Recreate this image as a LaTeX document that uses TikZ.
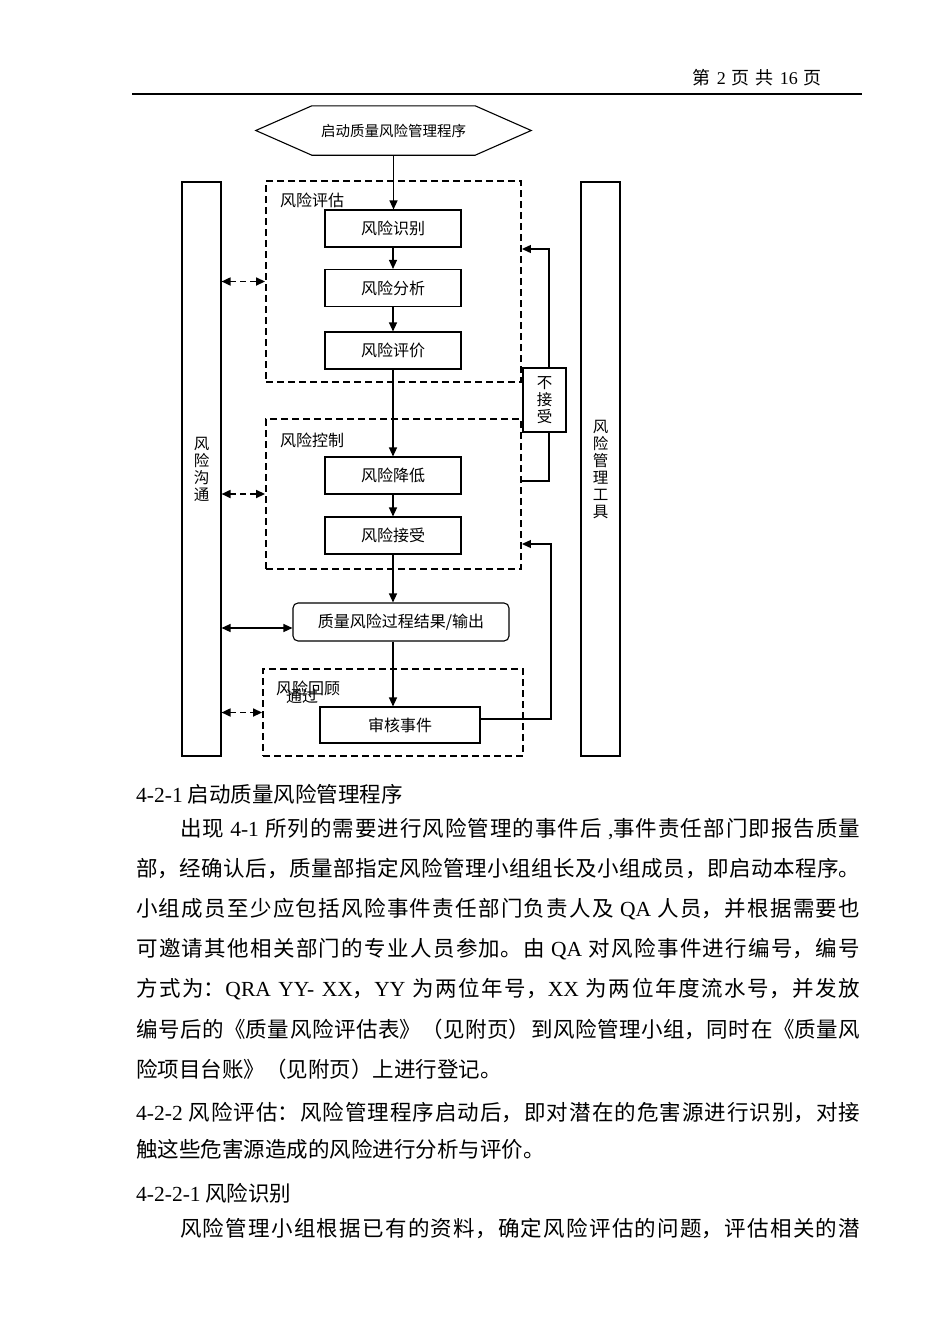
\documentclass[tikz,border=0pt]{standalone}
\usepackage{fontspec}
\setmainfont{Noto Sans CJK SC}
\newfontfamily\lat{Liberation Serif}
\usetikzlibrary{arrows.meta,calc}
\XeTeXlinebreaklocale "zh"
\XeTeXlinebreakskip=0pt plus 2pt
\newcommand\lblf{\fontsize{16pt}{17pt}\selectfont}
\newcommand\vertf{\fontsize{15.5pt}{17pt}\selectfont}
\newcommand\hexf{\fontsize{14.5pt}{16pt}\selectfont}
\newcommand\bodyf{\fontsize{21.5pt}{40pt}\selectfont}
\newcommand\hdrf{\fontsize{18pt}{20pt}\selectfont}
\newcommand\J{\noindent\parfillskip=0pt\relax}
\tikzset{
  box/.style={draw, line width=1.1pt, minimum width=136pt, minimum height=37pt, inner sep=0pt, font=\lblf},
  tall/.style={draw, line width=1.1pt, minimum width=39pt, minimum height=574pt, inner sep=0pt, align=center, font=\vertf},
  dbox/.style={draw, line width=1.9pt, dash pattern=on 7pt off 4pt, inner sep=0pt},
  lab/.style={anchor=west, inner sep=0pt, font=\lblf},
  tip/.tip={Triangle[length=9pt,width=8pt]},
  arr/.style={line width=1.2pt, -tip},
  plain/.style={line width=1.2pt},
  darr/.style={line width=1.7pt, dash pattern=on 6pt off 4pt, tip-tip},
  sarr/.style={line width=1.3pt, tip-tip},
  tl/.style={anchor=west, inner sep=0pt, font=\bodyf},
  jl/.style={tl, text width=#1, align=justify}
}
\begin{document}
\begin{tikzpicture}[x=1pt,y=-1pt]
\useasboundingbox (0,0) rectangle (950,1344);
\fill[white] (0,0) rectangle (950,1344);

% header
\node[anchor=east, inner sep=0pt, font=\hdrf] (hdr) at (822,78) {第\hspace{6pt}{\lat 2}\hspace{6pt}页\hspace{6pt}共\hspace{6pt}{\lat 16}\hspace{6pt}页};
\draw[line width=1.3pt] (132,94) -- (862,94);

% start hexagon
\node[font=\hexf, minimum width=275pt, minimum height=49pt, inner sep=0pt] (start) at (393.5,130.5) {启动质量风险管理程序};
\draw[line width=1.1pt] (start.west) -- ($(start.north west)+(56,0)$) -- ($(start.north east)+(-56,0)$) -- (start.east) -- ($(start.south east)+(-56,0)$) -- ($(start.south west)+(56,0)$) -- cycle;

% side bars
\node[tall] (comm) at (201.5,469) {风\\险\\沟\\通};
\node[tall] (tool) at (600.5,469) {风\\险\\管\\理\\工\\具};

% dashed groups
\node[dbox, minimum width=255pt, minimum height=201pt] (dash1) at (393.5,281.5) {};
\node[dbox, minimum width=255pt, minimum height=150pt] (dash2) at (393.5,494) {};
\node[dbox, minimum width=260pt, minimum height=87pt] (dash3) at (393,712.5) {};
\node[lab] (l1) at (280,200) {风险评估};
\node[lab] (l2) at (280,440) {风险控制};
\node[lab] (l3) at (276,688) {风险回顾};
\node[lab] (l4) at (286,696) {通过};

% process boxes
\node[box] (ident) at (393,228.5) {风险识别};
\node[box] (anal) at (393,288) {风险分析};
\node[box] (eval) at (393,350.5) {风险评价};
\node[box] (reduce) at (393,475.5) {风险降低};
\node[box] (accept) at (393,535.5) {风险接受};
\node[box, minimum width=216pt, minimum height=38pt, rounded corners=5pt] (output) at (401,622) {质量风险过程结果/输出};
\node[box, minimum width=160pt, minimum height=36pt] (audit) at (400,725) {审核事件};
\node[draw, line width=1.1pt, minimum width=43pt, minimum height=64pt, inner sep=0pt, align=center, font=\vertf] (bu) at (544.5,400) {不\\接\\受};

% main flow
\draw[arr] (start.south) -- (start.south |- ident.north);
\draw[arr] (ident.south) -- (anal.north);
\draw[arr] (anal.south) -- (eval.north);
\draw[arr] (eval.south) -- (reduce.north);
\draw[arr] (reduce.south) -- (accept.north);
\draw[arr] (accept.south) -- (accept.south |- output.north);
\draw[arr] (accept.south |- output.south) -- (accept.south |- audit.north);

% feedback loops
\coordinate (fbA) at (549,481);
\coordinate (fbB) at (549,249);
\draw[plain] (dash2.east |- fbA) -- (fbA) -- (fbA |- bu.south);
\draw[arr] (fbB |- bu.north) -- (fbB) -- (dash1.east |- fbB);
\coordinate (fbC) at (551,544);
\coordinate (aud) at ($(audit.east)+(0,-6)$);
\draw[arr] (aud) -- (aud -| fbC) -- (fbC) -- (dash2.east |- fbC);

% communication arrows
\draw[darr] (dash1.west -| comm.east) -- (dash1.west);
\draw[darr] (dash2.west -| comm.east) -- (dash2.west);
\coordinate (ow) at ($(output.west)+(0,6)$);
\draw[sarr] (ow -| comm.east) -- (ow);
\draw[darr] (dash3.west -| comm.east) -- (dash3.west);

% body text
\node[tl] (h1) at (136,794) {{\lat 4-2-1} 启动质量风险管理程序};
\node[jl=680pt] (p1) at (180,829) {\J 出现 {\lat 4-1} 所列的需要进行风险管理的事件后 {\lat ,}事件责任部门即报告质量\par};
\node[jl=724pt] (p2) at (136,869) {\J 部，经确认后，质量部指定风险管理小组组长及小组成员，即启动本程序。\par};
\node[jl=724pt] (p3) at (136,909) {\J 小组成员至少应包括风险事件责任部门负责人及 {\lat QA} 人员，并根据需要也\par};
\node[jl=724pt] (p4) at (136,949) {\J 可邀请其他相关部门的专业人员参加。由 {\lat QA} 对风险事件进行编号，编号\par};
\node[jl=724pt] (p5) at (136,989) {\J 方式为：{\lat QRA YY- XX}，{\lat YY} 为两位年号，{\lat XX} 为两位年度流水号，并发放\par};
\node[jl=724pt] (p6) at (136,1029) {\J 编号后的《质量风险评估表》（见附页）到风险管理小组，同时在《质量风\par};
\node[tl] (p7) at (136,1069) {险项目台账》（见附页）上进行登记。};
\node[jl=724pt] (q1) at (136,1113) {\J {\lat 4-2-2} 风险评估：风险管理程序启动后，即对潜在的危害源进行识别，对接\par};
\node[tl] (q2) at (136,1149) {触这些危害源造成的风险进行分析与评价。};
\node[tl] (h2) at (136,1193) {{\lat 4-2-2-1} 风险识别};
\node[jl=680pt] (r1) at (180,1229) {\J 风险管理小组根据已有的资料，确定风险评估的问题，评估相关的潜\par};
\end{tikzpicture}
\end{document}
